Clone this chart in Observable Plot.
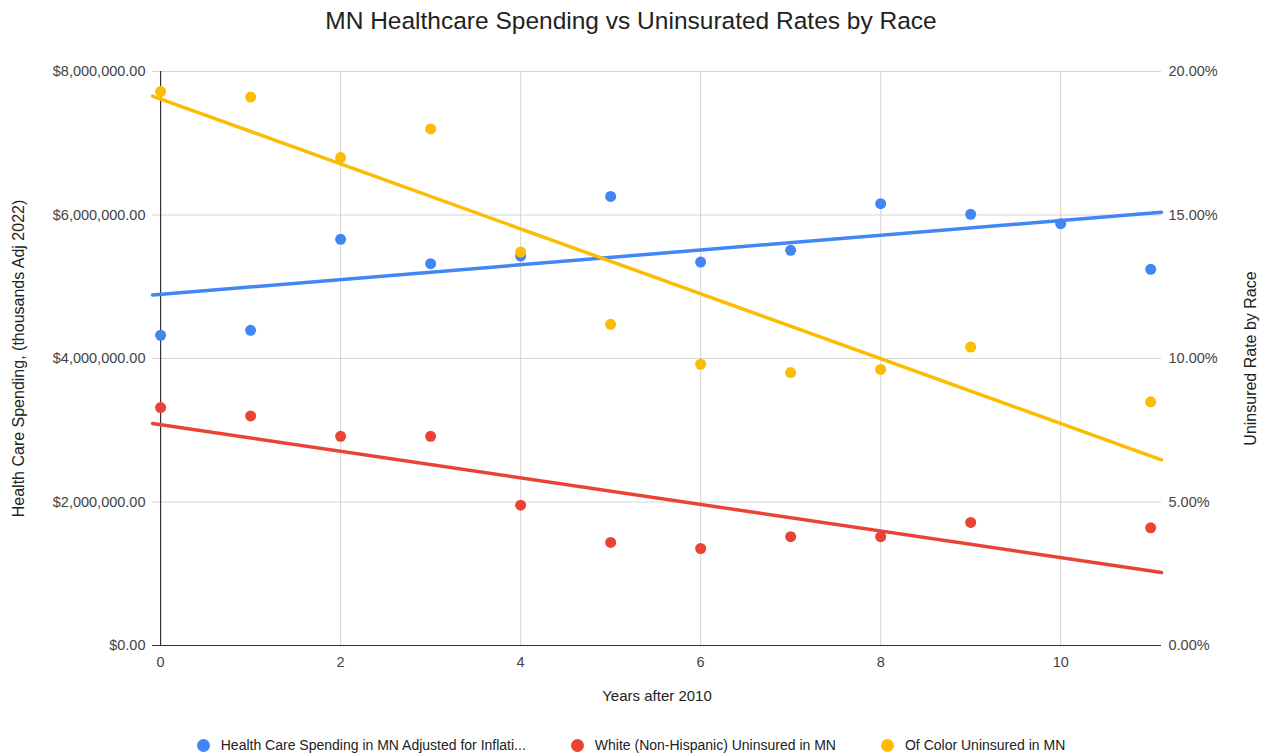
<!DOCTYPE html>
<html><head><meta charset="utf-8">
<script src="https://cdn.jsdelivr.net/npm/d3@7"></script>
<script src="https://cdn.jsdelivr.net/npm/@observablehq/plot@0.6"></script>
<style>
body{margin:0;background:#fff;font-family:"Liberation Sans",Arial,sans-serif;}
#title{height:40px;line-height:42px;text-align:center;font-size:24.5px;color:#222;}
#legend{display:flex;justify-content:center;gap:45px;font-size:14px;color:#222;height:34px;align-items:center;margin-top:8px;}
.item{display:flex;align-items:center;gap:11px}
.dot{width:13px;height:13px;border-radius:50%}
</style></head><body>
<div id="title"></div>
<div id="chart"></div>
<div id="legend"></div>
<script>
const years = [0,1,2,3,4,5,6,7,8,9,10,11];
const spending = [4324000,4393000,5661000,5322000,5428000,6259000,5344000,5507000,6158000,6009000,5879000,5243000];
const whiteUninsured = [8.29,8.00,7.29,7.29,4.89,3.59,3.38,3.79,3.79,4.29,null,4.10];
const colorUninsured = [19.30,19.11,17.00,18.00,13.71,11.19,9.80,9.51,9.62,10.40,null,8.49];
const seriesNames = ["Health Care Spending in MN Adjusted for Inflati...","White (Non-Hispanic) Uninsured in MN","Of Color Uninsured in MN"];
const seriesColors = ["#4285F4","#EA4335","#FBBC04"];
const leftTicks = [0,2000000,4000000,6000000,8000000];
const rightTicks = [0,5,10,15,20];
const xTicks = [0,2,4,6,8,10];
const title = "MN Healthcare Spending vs Uninsurated Rates by Race";
const xLabel = "Years after 2010";
const yLabelLeft = "Health Care Spending, (thousands Adj 2022)";
const yLabelRight = "Uninsured Rate by Race";

const k = 8000000 / 20; // percent -> left-axis units
const xDomain = [-0.09, 11.12];

const rows = [];
years.forEach((x,i) => {
  rows.push({x, y: spending[i], s: 0});
  if (whiteUninsured[i] != null) rows.push({x, y: whiteUninsured[i]*k, s: 1});
  if (colorUninsured[i] != null) rows.push({x, y: colorUninsured[i]*k, s: 2});
});

function trend(s){
  const p = rows.filter(d => d.s === s);
  const mx = d3.mean(p, d=>d.x), my = d3.mean(p, d=>d.y);
  const sxy = d3.sum(p, d=>(d.x-mx)*(d.y-my)), sxx = d3.sum(p, d=>(d.x-mx)**2);
  const b = sxy/sxx, a = my - b*mx;
  return xDomain.map(x => ({x, y: a + b*x, s}));
}
const trends = [0,1,2].flatMap(trend);

const chart = Plot.plot({
  width: 1262, height: 680,
  marginLeft: 152, marginRight: 101, marginTop: 31, marginBottom: 75,
  x: {domain: xDomain},
  y: {domain: [0, 8000000]},
  style: {fontFamily: "Liberation Sans, Arial, sans-serif", fontSize: "14.5px", color: "#444"},
  marks: [
    Plot.ruleY(leftTicks.slice(1), {stroke: "#d6d6d6", strokeWidth: 1}),
    Plot.ruleX(xTicks.slice(1), {stroke: "#d6d6d6", strokeWidth: 1}),
    Plot.ruleX([0], {stroke: "#333", strokeWidth: 1.2}),
    Plot.ruleY([0], {stroke: "#333", strokeWidth: 1.2}),
    Plot.axisY(leftTicks, {anchor: "left", tickSize: 0, tickPadding: 7, label: null,
      tickFormat: d => "$" + d3.format(",.2f")(d)}),
    Plot.axisY(rightTicks.map(d => d*k), {anchor: "right", tickSize: 0, tickPadding: 7, label: null,
      tickFormat: d => (d/k).toFixed(2) + "%"}),
    Plot.axisX(xTicks, {anchor: "bottom", tickSize: 0, tickPadding: 11, label: null}),
    Plot.line(trends, {x: "x", y: "y", z: "s", stroke: d => seriesColors[d.s], strokeWidth: 3.5}),
    Plot.dot(rows, {x: "x", y: "y", r: 5.5, fill: d => seriesColors[d.s], stroke: "none"}),
    Plot.text([xLabel], {frameAnchor: "bottom", dy: 55, fill: "#222", fontSize: 15}),
    Plot.text([yLabelLeft], {frameAnchor: "left", dx: -134, rotate: -90, textAnchor: "middle", fill: "#222", fontSize: 16}),
    Plot.text([yLabelRight], {frameAnchor: "right", dx: 89, rotate: -90, textAnchor: "middle", fill: "#222", fontSize: 16})
  ]
});
document.getElementById("chart").append(chart);
document.getElementById("title").textContent = title;
const lg = document.getElementById("legend");
seriesNames.forEach((n,i) => {
  const it = document.createElement("div"); it.className = "item";
  const dt = document.createElement("span"); dt.className = "dot"; dt.style.background = seriesColors[i];
  const tx = document.createElement("span"); tx.textContent = n;
  it.append(dt, tx); lg.append(it);
});
</script>
</body></html>
